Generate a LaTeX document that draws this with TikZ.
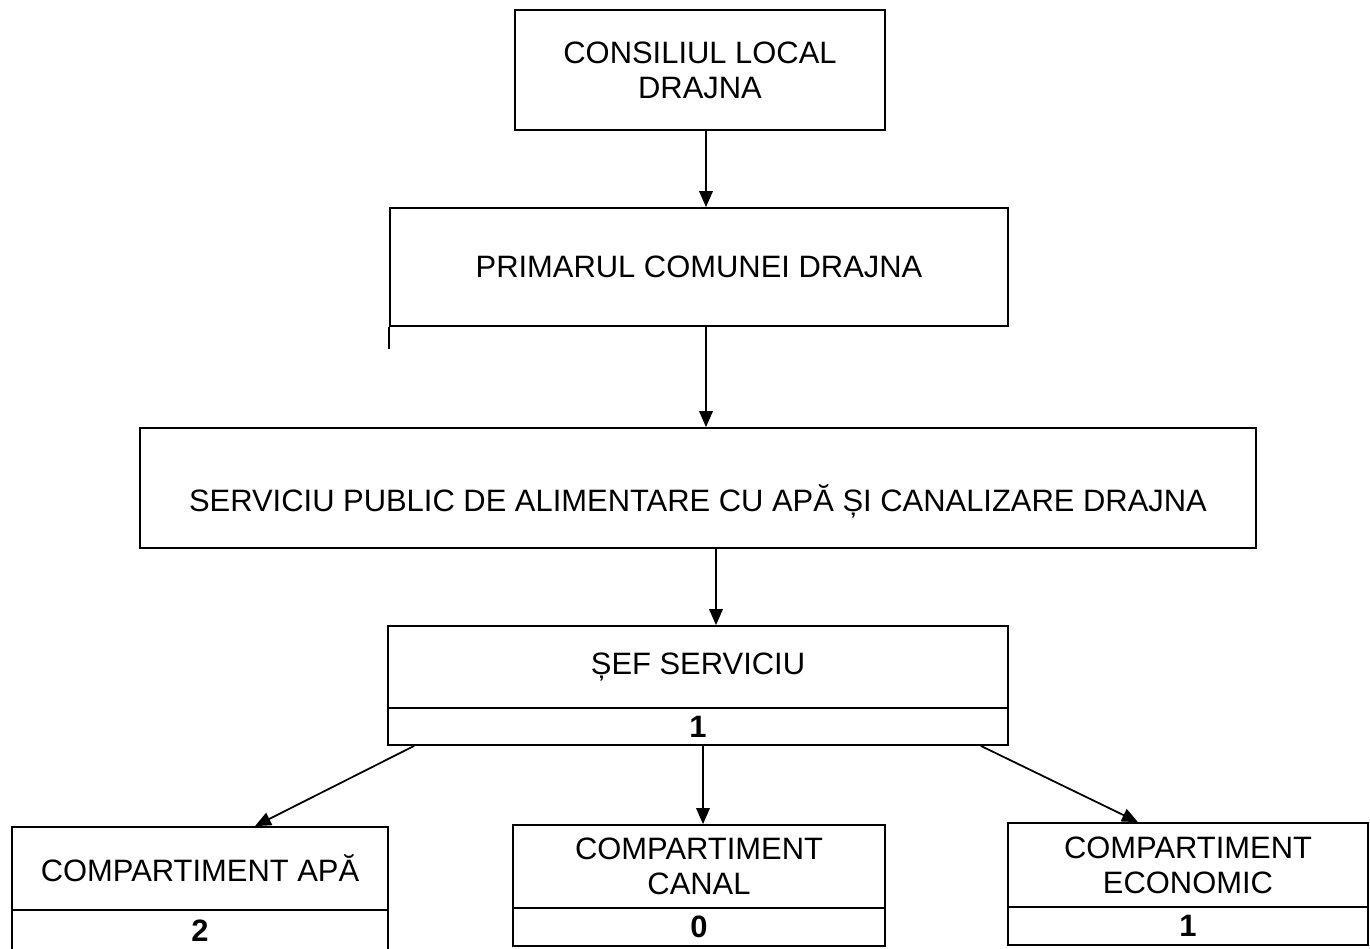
\documentclass[tikz,border=0pt]{standalone}
\usepackage{fontspec}
\setmainfont{Liberation Sans}
\usetikzlibrary{arrows.meta}
\begin{document}
\begin{tikzpicture}[x=0.02cm,y=-0.02cm,
  box/.style={draw, line width=1pt, inner sep=0pt, align=center,
    font=\fontsize{17.6}{20}\selectfont},
  num/.style={box, font=\fontsize{17.6}{20}\selectfont\bfseries},
  arr/.style={line width=1pt, -{Triangle[length=0.32cm,width=0.27cm]}}]
\useasboundingbox (0,0) rectangle (1370,948);
% boxes (sizes in px * 0.02cm)
\node[box, minimum width=7.4cm, minimum height=2.4cm] (cons) at (700,70) {CONSILIUL LOCAL\\DRAJNA};
\node[box, minimum width=12.36cm, minimum height=2.36cm] (prim) at (699,267) {PRIMARUL COMUNEI DRAJNA};
\node[box, minimum width=22.32cm, minimum height=2.4cm, text depth=0pt] (serv) at (698,488) {\raisebox{-0.42cm}{SERVICIU PUBLIC DE ALIMENTARE CU APĂ ȘI CANALIZARE DRAJNA}};
\node[box, minimum width=12.4cm, minimum height=1.64cm] (sef) at (698,667) {ȘEF SERVICIU};
\node[num, minimum width=12.4cm, minimum height=0.74cm] (sefb) at (698,726.5) {1};
\node[box, minimum width=7.52cm, minimum height=1.66cm] (apa) at (200,868.5) {COMPARTIMENT APĂ};
\node[num, minimum width=7.52cm, minimum height=0.84cm] (apab) at (200,931) {2};
\node[box, minimum width=7.44cm, minimum height=1.66cm] (canal) at (699,866.5) {COMPARTIMENT\\CANAL};
\node[num, minimum width=7.44cm, minimum height=0.76cm] (canalb) at (699,927) {0};
\node[box, minimum width=7.2cm, minimum height=1.68cm] (eco) at (1188,865) {COMPARTIMENT\\ECONOMIC};
\node[num, minimum width=7.2cm, minimum height=0.76cm] (ecob) at (1188,926) {1};
% stray extension of the left border of the mayor box
\draw[line width=1pt] (prim.south west) -- ++(0,22);
% connectors
\draw[arr] ([xshift=0.12cm]cons.south) -- ([xshift=0.14cm]prim.north);
\draw[arr] ([xshift=0.14cm]prim.south) -- ([xshift=0.16cm]serv.north);
\draw[arr] ([xshift=0.36cm]serv.south) -- ([xshift=0.36cm]sef.north);
\draw[arr] ([xshift=0.54cm]sefb.south west) -- ([xshift=1.1cm]apa.north);
\draw[arr] ([xshift=0.1cm]sefb.south) -- ([xshift=0.08cm]canal.north);
\draw[arr] ([xshift=-0.56cm]sefb.south east) -- ([xshift=-1cm]eco.north);
\end{tikzpicture}
\end{document}
